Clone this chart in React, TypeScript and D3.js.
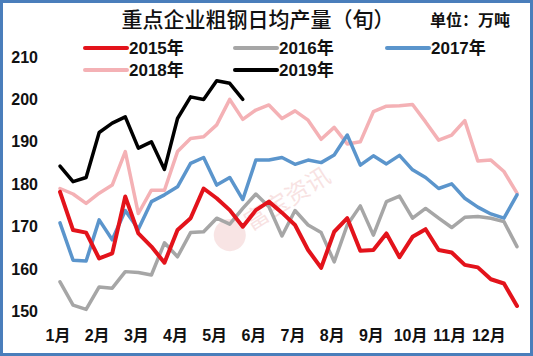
import React from "react";
import * as d3 from "d3";

const months = ["1月", "2月", "3月", "4月", "5月", "6月", "7月", "8月", "9月", "10月", "11月", "12月"];
const yTicks = [150, 160, 170, 180, 190, 200, 210];

const s2015 = [178.2, 169.2, 168.6, 162.5, 163.7, 177.1, 168.4, 165.3, 161.5, 169.2, 172.0, 179.0, 176.7, 173.9, 170.0, 173.9, 175.9, 173.3, 170.4, 164.5, 160.3, 168.8, 172.0, 164.3, 164.5, 168.4, 162.8, 167.6, 169.4, 164.5, 163.9, 161.0, 160.4, 157.6, 156.6, 151.3];
const s2016 = [157.0, 151.5, 150.5, 155.8, 155.5, 159.4, 159.2, 158.6, 166.2, 162.9, 168.6, 168.8, 172.0, 170.6, 174.3, 177.7, 174.7, 167.8, 173.8, 170.4, 168.6, 161.7, 170.4, 174.9, 168.0, 175.9, 177.2, 172.0, 174.3, 172.0, 169.8, 172.2, 172.4, 172.0, 171.2, 165.3];
const s2017 = [170.9, 162.1, 161.9, 171.6, 166.9, 173.8, 169.4, 175.9, 177.5, 179.4, 184.9, 186.3, 179.8, 181.6, 176.4, 185.7, 185.7, 186.3, 184.7, 185.7, 185.1, 186.9, 191.6, 184.5, 186.7, 184.8, 186.8, 183.4, 181.6, 179.0, 180.1, 176.7, 174.6, 173.0, 172.0, 177.5];
const s2018 = [179.0, 177.7, 175.5, 177.9, 179.8, 187.7, 173.1, 178.6, 178.6, 187.7, 190.8, 191.2, 194.0, 200.0, 195.3, 197.5, 198.7, 195.5, 197.3, 195.1, 190.6, 193.4, 189.5, 190.0, 197.1, 198.4, 198.5, 198.8, 194.7, 190.4, 191.6, 195.0, 185.5, 185.7, 183.0, 177.9];
const s2019 = [184.3, 180.6, 181.6, 192.2, 194.4, 195.9, 188.5, 190.0, 183.5, 195.5, 200.6, 200.0, 204.4, 203.8, 200.0];

const seriesNames = ["2015年", "2016年", "2017年", "2018年", "2019年"];
const seriesData = [s2015, s2016, s2017, s2018, s2019];
const seriesColors = ["#e3131b", "#a6a6a6", "#5b95cc", "#f4b1b5", "#000000"];
const seriesWidths = [4, 3.5, 3.5, 3.5, 3.5];
const drawOrder = [3, 2, 1, 0, 4];

const W = 533;
const H = 356;
const font = "'Liberation Sans', 'Noto Sans CJK SC', Arial, sans-serif";
const cjk = "'Noto Sans CJK SC', 'Liberation Sans', sans-serif";

export default function App() {
  const idx = d3.range(36);
  const x = d3.scalePoint<number>().domain(idx).range([60, 517]);
  const y = d3.scaleLinear().domain([150, 210]).range([311.5, 57]);
  const line = d3
    .line<number>()
    .x((_, i) => x(i) as number)
    .y((d) => y(d));

  const legendPos = [
    [85, 48],
    [235, 48],
    [387, 48],
    [85, 70],
    [235, 70],
  ];

  return (
    <svg width={W} height={H} style={{ position: "absolute", left: 0, top: 0, background: "#fff" }}>
      <rect x={0} y={0} width={W} height={H} fill="#fff" />
      <rect x={1.5} y={1.5} width={W - 3} height={H - 3} fill="none" stroke="#4a7ebb" strokeWidth={3} />

      <text x={258} y={26.5} textAnchor="middle" fontFamily={cjk} fontSize={21} fontWeight={500} fill="#111">
        重点企业粗钢日均产量（旬）
      </text>
      <text x={470} y={26} textAnchor="middle" fontFamily={cjk} fontSize={16} fontWeight={700} fill="#111">
        单位：万吨
      </text>

      {/* watermark */}
      <g transform="translate(262,215) rotate(-32)" opacity={0.22}>
        <circle cx={-38} cy={0} r={16} fill="#e08a8a" />
        <text x={-18} y={8} fontFamily={cjk} fontSize={24} fill="#e07f7f">
          富宝资讯
        </text>
      </g>

      {yTicks.map((t) => (
        <text key={t} x={38} y={y(t)} dy="0.35em" textAnchor="end" fontFamily={font} fontSize={16} fontWeight={700} fill="#111">
          {t}
        </text>
      ))}

      {months.map((m, k) => (
        <text key={m} x={(x(k * 3) as number) - 2} y={341} textAnchor="middle" fontFamily={font} fontSize={16} fontWeight={700} fill="#111">
          {m}
        </text>
      ))}

      {drawOrder.map((si) => (
        <path
          key={si}
          d={line(seriesData[si]) || ""}
          fill="none"
          stroke={seriesColors[si]}
          strokeWidth={seriesWidths[si]}
          strokeLinejoin="round"
          strokeLinecap="round"
        />
      ))}

      {seriesNames.map((n, si) => {
        const [lx, ly] = legendPos[si];
        return (
          <g key={n}>
            <line x1={lx} x2={lx + 42} y1={ly} y2={ly} stroke={seriesColors[si]} strokeWidth={4} strokeLinecap="round" />
            <text x={lx + 44} y={ly} dy="0.36em" fontFamily={font} fontSize={17} fontWeight={700} fill="#111">
              {n}
            </text>
          </g>
        );
      })}
    </svg>
  );
}
